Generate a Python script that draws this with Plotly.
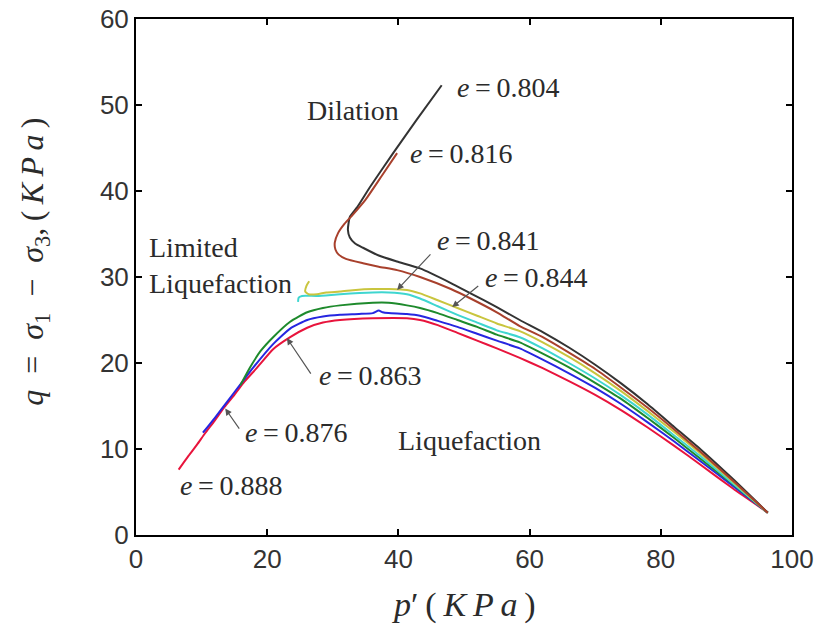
import plotly.graph_objects as go

# ---------------- data ----------------
# right-hand converging branch shared p-grid
p_tail = [58.5, 62.0, 66.0, 70.0, 74.0, 78.0, 82.0, 86.0, 91.0, 96.3]

p_804 = [46.6, 42.8, 39.2, 35.7, 33.7, 32.6, 32.3, 32.6, 33.4, 34.6, 37.0, 39.8, 43.3, 48.0, 51.0, 55.0] + p_tail
q_804 = [52.3, 48.3, 44.4, 40.5, 38.1, 37.0, 35.5, 34.6, 33.9, 33.4, 32.5, 31.8, 31.0, 29.3, 28.1, 26.5] + [25.0, 23.6, 21.8, 19.8, 17.6, 15.2, 12.6, 10.0, 6.5, 2.6]

p_816 = [39.8, 37.5, 35.0, 33.0, 31.8, 30.8, 30.3, 30.4, 30.9, 32.0, 34.6, 37.0, 39.8, 43.3, 48.0, 51.0, 55.0] + p_tail
q_816 = [44.4, 41.8, 39.0, 37.2, 36.2, 35.1, 34.0, 33.2, 32.6, 32.1, 31.6, 31.2, 30.8, 30.0, 28.6, 27.5, 25.9] + [24.3, 23.0, 21.2, 19.3, 17.1, 14.8, 12.3, 9.7, 6.3, 2.6]

p_841 = [26.4, 26.0, 25.8, 26.3, 27.6, 29.0, 31.1, 33.5, 36.1, 38.5, 41.3, 43.3, 46.0, 49.0, 52.0, 55.0] + p_tail
q_841 = [29.5, 29.0, 28.3, 28.0, 28.0, 28.2, 28.3, 28.5, 28.6, 28.6, 28.5, 28.1, 27.3, 26.4, 25.5, 24.6] + [23.7, 22.4, 20.7, 18.8, 16.7, 14.4, 12.0, 9.5, 6.2, 2.6]

p_844 = [24.7, 24.8, 25.3, 27.6, 31.1, 36.1, 38.5, 41.3, 43.3, 46.0, 49.0, 52.0, 55.0] + p_tail
q_844 = [27.1, 27.6, 27.8, 27.8, 28.0, 28.2, 28.2, 28.0, 27.5, 26.6, 25.6, 24.7, 23.8] + [23.0, 21.7, 20.0, 18.2, 16.2, 14.0, 11.6, 9.2, 6.0, 2.6]

p_863 = [15.9, 17.4, 19.0, 20.9, 23.5, 26.1, 28.5, 31.1, 36.1, 38.5, 41.3, 43.3, 46.0, 49.0, 52.0, 55.0] + p_tail
q_863 = [17.4, 19.5, 21.4, 23.0, 24.8, 25.9, 26.4, 26.7, 27.0, 27.0, 26.7, 26.4, 25.8, 25.0, 24.2, 23.3] + [22.4, 21.1, 19.5, 17.7, 15.8, 13.6, 11.3, 8.9, 5.9, 2.6]

p_876 = [10.2, 12.0, 14.0, 16.0, 17.8, 20.9, 23.5, 26.1, 28.5, 31.1, 34.0, 36.1, 37.0, 37.6, 38.5, 41.3, 43.3, 46.0, 49.0, 52.0, 55.0] + p_tail
q_876 = [11.9, 13.6, 15.6, 17.6, 19.4, 22.2, 24.0, 25.0, 25.4, 25.6, 25.7, 25.8, 26.1, 25.9, 25.8, 25.7, 25.5, 24.9, 24.2, 23.4, 22.6] + [21.7, 20.4, 18.8, 17.1, 15.2, 13.1, 10.9, 8.6, 5.7, 2.6]

p_888 = [6.5, 8.0, 9.3, 10.5, 12.0, 13.5, 15.0, 16.5, 18.4, 20.9, 23.5, 26.1, 28.5, 31.1, 36.1, 41.3, 43.3, 46.0, 49.0, 52.0, 55.0] + p_tail
q_888 = [7.6, 9.2, 10.5, 11.8, 13.3, 14.9, 16.3, 17.8, 19.4, 21.6, 23.0, 24.1, 24.7, 25.0, 25.2, 25.2, 25.0, 24.4, 23.5, 22.6, 21.7] + [20.6, 19.4, 17.9, 16.3, 14.5, 12.5, 10.4, 8.2, 5.4, 2.6]

x_ticks = [0, 20, 40, 60, 80, 100]
y_ticks = [0, 10, 20, 30, 40, 50, 60]

# ---------------- figure ----------------
fig = go.Figure()
series = [
    ("e = 0.888", p_888, q_888, "#e8143c"),
    ("e = 0.876", p_876, q_876, "#2626e0"),
    ("e = 0.863", p_863, q_863, "#1e8a2c"),
    ("e = 0.844", p_844, q_844, "#3fd6d0"),
    ("e = 0.841", p_841, q_841, "#c9c53e"),
    ("e = 0.804", p_804, q_804, "#333333"),
    ("e = 0.816", p_816, q_816, "#a8402c"),
]
for name, px, qy, col in series:
    fig.add_trace(go.Scatter(x=px, y=qy, mode="lines", name=name,
                             line=dict(color=col, width=2, shape="spline", smoothing=0.5),
                             showlegend=False))

SERIF = "Liberation Serif"
TXT = "#2b2b2b"

def label(x, y, text):
    fig.add_annotation(x=x, y=y, xref="x", yref="y", text=text, showarrow=False,
                       xanchor="left", yanchor="middle",
                       font=dict(family=SERIF, size=28, color=TXT))

def arrow(x, y, ax, ay):
    fig.add_annotation(x=x, y=y, ax=ax, ay=ay, xref="x", yref="y", axref="x", ayref="y",
                       text="", showarrow=True, arrowhead=2, arrowsize=1.1,
                       arrowwidth=1.2, arrowcolor="#555555", standoff=0, startstandoff=0)

E = "<i>e</i>\u2009=\u20090."
label(48.6, 52.0, E + "804")
label(41.5, 44.4, E + "816")
label(45.6, 34.3, E + "841")
label(52.9, 30.0, E + "844")
label(27.6, 18.6, E + "863")
label(16.3, 11.9, E + "876")
label(6.4, 5.8, E + "888")
label(25.8, 49.4, "Dilation")
label(1.6, 33.4, "Limited")
label(1.6, 29.3, "Liquefaction")
label(39.6, 11.0, "Liquefaction")

arrow(39.8, 28.5, 45.1, 32.8)
arrow(48.2, 26.5, 52.4, 29.1)
arrow(23.0, 22.9, 26.8, 18.6)
arrow(13.6, 14.7, 15.9, 12.2)

# axis titles as annotations
fig.add_annotation(xref="paper", yref="paper", x=0.5, y=-0.136, showarrow=False,
                   text="<i>p</i>\u2032\u2009(\u2009<i>K</i>\u2009<i>P</i>\u2009<i>a</i>\u2009)",
                   xanchor="center", yanchor="middle",
                   font=dict(family=SERIF, size=34, color=TXT))
fig.add_annotation(xref="paper", yref="paper", x=-0.155, y=0.53, showarrow=False, textangle=-90,
                   text="<i>q</i>\u2002=\u2002<i>σ</i><sub>1</sub>\u2002−\u2002<i>σ</i><sub>3</sub>,\u2009(\u2009<i>K</i>\u2009<i>P</i>\u2009<i>a</i>\u2009)",
                   xanchor="center", yanchor="middle",
                   font=dict(family=SERIF, size=32, color=TXT))

axis_common = dict(showgrid=False, zeroline=False, showline=True, linecolor="black", linewidth=2,
                   mirror="ticks", ticks="inside", ticklen=6, tickwidth=2, tickcolor="black",
                   automargin=False,
                   tickfont=dict(family="Liberation Sans", size=26, color="#333333"))
fig.update_xaxes(range=[0, 100], tickvals=x_ticks, ticktext=[str(v) for v in x_ticks], **axis_common)
fig.update_yaxes(range=[0, 60], tickvals=y_ticks, ticktext=[str(v) for v in y_ticks], **axis_common)

fig.update_layout(width=827, height=625, margin=dict(l=136, r=35, t=19, b=90, autoexpand=False),
                  plot_bgcolor="white", paper_bgcolor="white")

fig.write_html("out.html", config={"displayModeBar": False},
               post_script="document.body.style.margin='0px';document.body.style.overflow='hidden';")
